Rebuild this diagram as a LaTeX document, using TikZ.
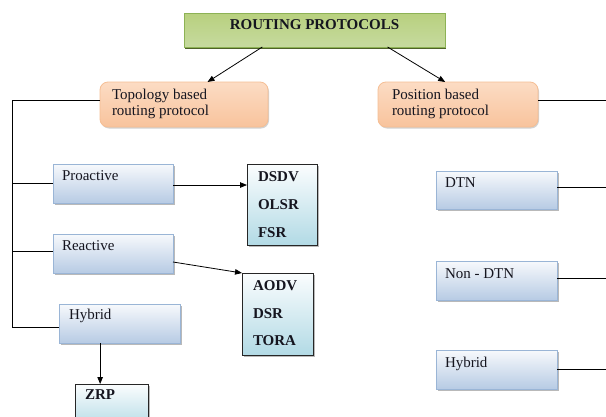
\documentclass[tikz,border=0pt]{standalone}
\usepackage{fontspec}
\setmainfont{Liberation Serif}
\usetikzlibrary{arrows.meta,shadows,calc}

\definecolor{blueedge}{HTML}{9AB5D6}
\definecolor{bluetop}{HTML}{F7F9FC}
\definecolor{bluebot}{HTML}{B7CBE4}
\definecolor{tealtop}{HTML}{FBFDFE}
\definecolor{tealbot}{HTML}{B2DAE5}
\definecolor{orgedge}{HTML}{F5BE94}
\definecolor{orgtop}{HTML}{FCDCC4}
\definecolor{orgmid}{HTML}{FDEEE3}
\definecolor{orgbot}{HTML}{F8C39C}
\definecolor{grnedge}{HTML}{8DB255}
\definecolor{grntop}{HTML}{B8D07E}
\definecolor{grnmid}{HTML}{98B955}
\definecolor{grnbot}{HTML}{C6DA9F}
\definecolor{grnshadow}{HTML}{4E6228}
\definecolor{ink}{HTML}{15151F}

\begin{document}
\begin{tikzpicture}[x=1pt,y=-1pt,
  every node/.style={outer sep=0pt},
  titlebox/.style={draw=grnedge, line width=0.8pt, top color=grntop, middle color=grnmid, bottom color=grnbot,
    drop shadow={shadow xshift=0.5pt, shadow yshift=-2pt, fill=grnshadow, opacity=1}},
  groupbox/.style={draw=orgedge, line width=0.8pt, rounded corners=8pt, top color=orgtop, middle color=orgmid, bottom color=orgbot,
    drop shadow={shadow xshift=1pt, shadow yshift=-1.5pt, fill=gray!35, opacity=1}},
  classbox/.style={draw=blueedge, line width=0.9pt, top color=bluetop, bottom color=bluebot,
    drop shadow={shadow xshift=1.5pt, shadow yshift=-2pt, fill=gray!55, opacity=1}},
  listbox/.style={draw=black!85, line width=0.9pt, top color=tealtop, bottom color=tealbot,
    drop shadow={shadow xshift=1.5pt, shadow yshift=-2pt, fill=gray!55, opacity=1}},
  txt/.style={inner sep=0pt, anchor=base west, font=\fontsize{15}{16}\selectfont, text=ink},
  ltxt/.style={txt, font=\fontsize{15}{16}\selectfont\bfseries},
  link/.style={draw=black, line width=0.8pt},
  arr/.style={link, -{Triangle[length=7pt,width=5.5pt]}}
]
\clip (0,0) rectangle (606,416);
\fill[white] (0,0) rectangle (606,416);

% title
\node[titlebox, anchor=north west, minimum width=261pt, minimum height=34pt] (title) at (184,13) {};
\node[inner sep=0pt, anchor=base, font=\fontsize{15}{16}\selectfont\bfseries, text=ink] (title-t) at (314.5,29.5) {ROUTING PROTOCOLS};

% two main families
\node[groupbox, anchor=north west, minimum width=168pt, minimum height=45pt] (topo) at (100,82) {};
\node[txt, align=left, anchor=north west] (topo-t) at (112,89.5) {Topology based\\routing protocol};
\node[groupbox, anchor=north west, minimum width=160pt, minimum height=45pt] (pos) at (378,82) {};
\node[txt, align=left, anchor=north west] (pos-t) at (392,89.5) {Position based\\routing protocol};

% topology based classes
\node[classbox, anchor=north west, minimum width=120pt, minimum height=39pt] (pro) at (53,164) {};
\node[txt] (pro-t) at (62,180) {Proactive};
\node[classbox, anchor=north west, minimum width=120pt, minimum height=39pt] (rea) at (53,234) {};
\node[txt] (rea-t) at (62,250) {Reactive};
\node[classbox, anchor=north west, minimum width=121pt, minimum height=39pt] (hyb) at (59,304) {};
\node[txt] (hyb-t) at (69,319) {Hybrid};

% protocol lists
\node[listbox, anchor=north west, minimum width=70pt, minimum height=81pt] (plist) at (247,164) {};
\node[ltxt] (p1) at (258,181) {DSDV};
\node[ltxt] (p2) at (258,209) {OLSR};
\node[ltxt] (p3) at (258,237) {FSR};
\node[listbox, anchor=north west, minimum width=71pt, minimum height=82pt] (rlist) at (242,273) {};
\node[ltxt] (r1) at (253,290) {AODV};
\node[ltxt] (r2) at (253,318) {DSR};
\node[ltxt] (r3) at (253,345) {TORA};
\node[listbox, anchor=north west, minimum width=73pt, minimum height=45pt] (hlist) at (75,384) {};
\node[ltxt] (h1) at (85,399) {ZRP};

% position based classes
\node[classbox, anchor=north west, minimum width=121pt, minimum height=38pt] (dtn) at (436,171) {};
\node[txt] (dtn-t) at (445,187) {DTN};
\node[classbox, anchor=north west, minimum width=121pt, minimum height=39pt] (ndtn) at (436,261) {};
\node[txt] (ndtn-t) at (445,278) {Non - DTN};
\node[classbox, anchor=north west, minimum width=121pt, minimum height=39pt] (phyb) at (436,350) {};
\node[txt] (phyb-t) at (445,367) {Hybrid};

% title to families
\draw[arr] ($(title.south west)!0.30!(title.south east)$) -- ($(topo.north west)!0.64!(topo.north east)$);
\draw[arr] ($(title.south west)!0.78!(title.south east)$) -- ($(pos.north west)!0.42!(pos.north east)$);

% topology trunk
\coordinate (trunk) at (12,0);
\coordinate (topo-out) at ($(topo.west)+(0,-4.5)$);
\draw[link] (topo-out) -- (topo-out -| trunk) -- ($(hyb.west -| trunk)+(0,3.5)$) -- ($(hyb.west)+(0,3.5)$);
\draw[link] (pro.west -| trunk) -- (pro.west);
\draw[link] ($(rea.west -| trunk)+(0,-2.5)$) -- ($(rea.west)+(0,-2.5)$);

% classes to protocol lists
\draw[arr] ($(pro.east)+(0,1.5)$) -- ($(pro.east -| plist.west)+(0,1.5)$);
\draw[arr] ($(rea.east)+(0,8.5)$) -- (rlist.north west);
\coordinate (hyb-out) at ($(hyb.south west)!0.34!(hyb.south east)$);
\draw[arr] (hyb-out) -- (hyb-out |- hlist.north);

% position based lines running off to the right
\coordinate (edge) at (606,0);
\coordinate (pos-out) at ($(pos.east)+(0,-4.5)$);
\draw[link] (pos-out) -- (pos-out -| edge);
\coordinate (dtn-out) at ($(dtn.east)+(0,-3)$);
\draw[link] (dtn-out) -- (dtn-out -| edge);
\coordinate (ndtn-out) at ($(ndtn.east)+(0,-2.5)$);
\draw[link] (ndtn-out) -- (ndtn-out -| edge);
\draw[link] (phyb.east) -- (phyb.east -| edge);
\end{tikzpicture}
\end{document}
